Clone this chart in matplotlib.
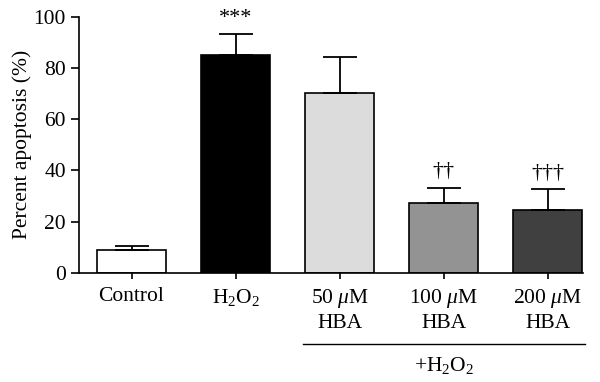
import numpy as np
import matplotlib
matplotlib.use("Agg")
import matplotlib.pyplot as plt

plt.rcParams["font.family"] = ["Liberation Serif", "DejaVu Serif"]
plt.rcParams["mathtext.fontset"] = "custom"
plt.rcParams["mathtext.rm"] = "Liberation Serif"
plt.rcParams["mathtext.it"] = "Liberation Serif:italic"

groups = ["Control", "H$_2$O$_2$", "50 $\\mu$M\nHBA", "100 $\\mu$M\nHBA", "200 $\\mu$M\nHBA"]
means = [8.9, 85.3, 70.2, 27.4, 24.4]
errs = [1.6, 8.0, 14.3, 5.9, 8.3]
marks = ["", "***", "", "\u2020\u2020", "\u2020\u2020\u2020"]
colors = ["white", "black", "#dcdcdc", "#939393", "#404040"]

fs = 15.5
fig = plt.figure(figsize=(6, 3.82), dpi=100)
ax = fig.add_axes([0.1317, 0.2861, 0.84, 0.6694])
x = np.arange(len(groups))
ax.bar(x, means, 0.67, color=colors, edgecolor="black", linewidth=1.2, zorder=2)
ax.errorbar(x, means, yerr=[np.zeros(len(errs)), errs], fmt="none",
            ecolor="black", elinewidth=1.3, capsize=12.5, capthick=1.3, zorder=3)
for i, m in enumerate(marks):
    if m:
        ax.text(i, means[i] + errs[i] + 2.5, m, ha="center", va="bottom", fontsize=16)

ax.set_xlim(-0.505, 4.34)
ax.set_ylim(0, 100)
ax.set_yticks([0, 20, 40, 60, 80, 100])
ax.set_xticks(x)
ax.set_xticklabels(groups, fontsize=fs, linespacing=1.3)
ax.tick_params(axis="y", labelsize=fs, length=6, width=1.2)
ax.tick_params(axis="x", length=4, width=1.2, pad=6)
ax.set_ylabel("Percent apoptosis (%)", fontsize=fs, labelpad=1)
for s in ["top", "right"]:
    ax.spines[s].set_visible(False)
for s in ["left", "bottom"]:
    ax.spines[s].set_linewidth(1.2)

# bracket for +H2O2 groups
ax.plot([1.65, 4.36], [-28, -28], color="black", lw=1.0, clip_on=False)
ax.text(3.0, -32, "+H$_2$O$_2$", ha="center", va="top", fontsize=fs)

fig.savefig("out.png", dpi=100)
